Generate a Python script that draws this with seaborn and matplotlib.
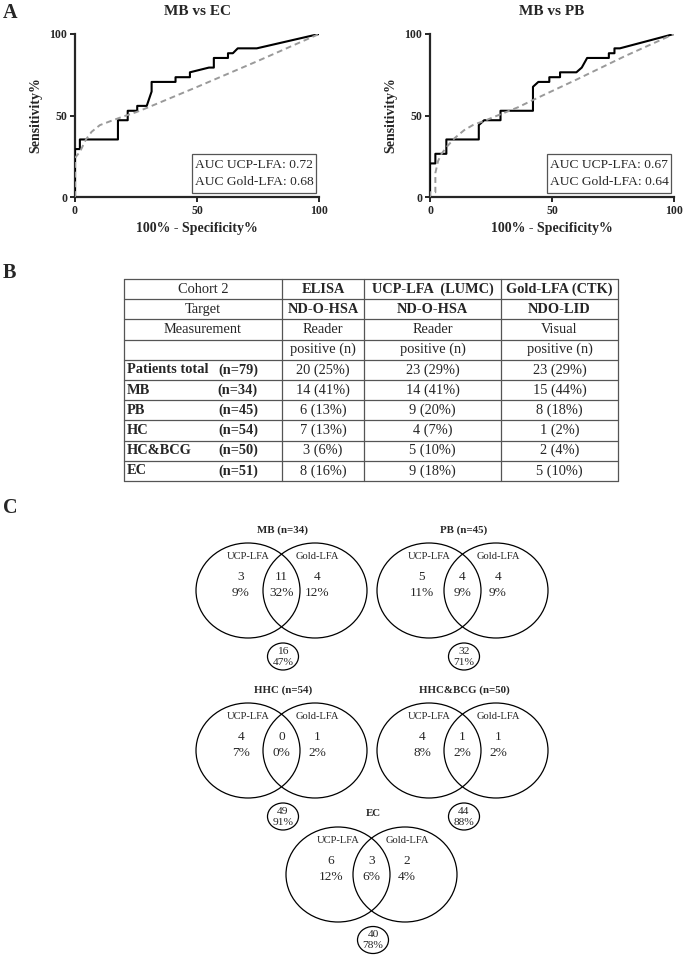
import matplotlib
matplotlib.use("Agg")
import matplotlib.pyplot as plt
import seaborn as sns
from matplotlib.patches import Ellipse, Rectangle

# ---- Panel A: ROC curves ----
ec_ucp_fpr = [0, 0, 2.0, 2.0, 17.6, 17.6, 21.6, 21.6, 25.5, 25.5, 29.4, 31.4, 31.4, 41.2, 41.2,
              47.1, 47.1, 54.9, 56.9, 56.9, 62.7, 62.7, 64.7, 66.7, 74.5, 100]
ec_ucp_tpr = [0, 29.4, 29.4, 35.3, 35.3, 47.1, 47.1, 52.9, 52.9, 55.9, 55.9, 64.7, 70.6, 70.6, 73.5,
              73.5, 76.5, 79.4, 79.4, 85.3, 85.3, 88.2, 88.2, 91.2, 91.2, 100]
ec_gold_fpr = [0, 0, 2.0, 4.5, 6.8, 10.2, 15.7, 20.0, 25.0, 30.0, 50.0, 75.0, 100]
ec_gold_tpr = [0, 24.0, 27.7, 35.3, 40.0, 44.1, 47.2, 49.5, 52.0, 55.0, 67.5, 83.5, 100]

pb_ucp_fpr = [0, 0, 2.2, 2.2, 6.7, 6.7, 20.0, 20.0, 22.2, 28.9, 28.9, 42.2, 42.2, 44.4, 48.9, 48.9,
              53.3, 53.3, 60.0, 62.2, 64.4, 73.3, 73.3, 75.6, 75.6, 77.8, 100]
pb_ucp_tpr = [0, 20.6, 20.6, 26.5, 26.5, 35.3, 35.3, 44.1, 47.1, 47.1, 52.9, 52.9, 67.6, 70.6, 70.6, 73.5,
              73.5, 76.5, 76.5, 79.4, 85.3, 85.3, 88.2, 88.2, 91.2, 91.2, 100]
pb_gold_fpr = [0, 0, 2.2, 2.2, 3.3, 4.5, 6.7, 10.0, 14.0, 18.0, 22.0, 26.0, 31.0, 36.0, 42.2, 60.0, 80.0, 100]
pb_gold_tpr = [0, 2.9, 2.9, 14.7, 22.0, 26.0, 30.5, 36.0, 41.0, 44.5, 46.5, 49.0, 52.0, 55.0, 59.5, 72.0, 86.5, 100]

roc_titles = ["MB vs EC", "MB vs PB"]
auc_ucp = [0.72, 0.67]
auc_gold = [0.68, 0.64]

# ---- Panel B: table ----
col_headers = ["Cohort 2", "ELISA", "UCP-LFA  (LUMC)", "Gold-LFA (CTK)"]
targets = ["Target", "ND-O-HSA", "ND-O-HSA", "NDO-LID"]
measurements = ["Measurement", "Reader", "Reader", "Visual"]
groups = ["Patients total", "MB", "PB", "HC", "HC&BCG", "EC"]
group_n = [79, 34, 45, 54, 50, 51]
elisa_pos = [20, 14, 6, 7, 3, 8]
elisa_pct = [25, 41, 13, 13, 6, 16]
ucp_pos = [23, 14, 9, 4, 5, 9]
ucp_pct = [29, 41, 20, 7, 10, 18]
gold_pos = [23, 15, 8, 1, 2, 5]
gold_pct = [29, 44, 18, 2, 4, 10]

# ---- Panel C: Venn diagrams ----
venn_titles = ["MB (n=34)", "PB (n=45)", "HHC (n=54)", "HHC&BCG (n=50)", "EC"]
ucp_only = [3, 5, 4, 4, 6]
ucp_only_pct = [9, 11, 7, 8, 12]
both = [11, 4, 0, 1, 3]
both_pct = [32, 9, 0, 2, 6]
gold_only = [4, 4, 1, 1, 2]
gold_only_pct = [12, 9, 2, 2, 4]
neither = [16, 32, 49, 44, 40]
neither_pct = [47, 71, 91, 88, 78]

sns.set_style("ticks")
plt.rcParams["font.family"] = ["Liberation Serif", "DejaVu Serif"]

W, H = 685, 959
fig = plt.figure(figsize=(W / 100, H / 100), dpi=100)


def px_axes(left, top, width, height):
    return fig.add_axes([left / W, 1 - (top + height) / H, width / W, height / H])


roc_sets = [
    (ec_ucp_fpr, ec_ucp_tpr, ec_gold_fpr, ec_gold_tpr),
    (pb_ucp_fpr, pb_ucp_tpr, pb_gold_fpr, pb_gold_tpr),
]
for i, (uf, ut, gf, gt) in enumerate(roc_sets):
    ax = px_axes([75, 430][i], 34, 244, 163)
    sns.lineplot(x=uf, y=ut, sort=False, estimator=None, color="black", lw=1.5, ax=ax, zorder=3)
    sns.lineplot(x=gf, y=gt, sort=False, estimator=None, color="#9a9a9a", lw=1.4, ax=ax, zorder=4)
    ax.lines[-1].set_dashes([3, 2])
    ax.set_xlim(0, 100)
    ax.set_ylim(0, 100)
    ax.set_xticks([0, 50, 100])
    ax.set_yticks([0, 50, 100])
    for sp in ["top", "right"]:
        ax.spines[sp].set_visible(False)
    for sp in ["left", "bottom"]:
        ax.spines[sp].set_linewidth(1.6)
    ax.tick_params(width=1.4, length=3.5, labelsize=8.5, pad=2)
    for lab in ax.get_xticklabels() + ax.get_yticklabels():
        lab.set_fontweight("bold")
    ax.set_title(roc_titles[i], fontsize=11, fontweight="bold", pad=14)
    ax.set_xlabel("100% - Specificity%", fontsize=10, fontweight="bold", labelpad=4)
    ax.set_ylabel("Sensitivity%", fontsize=10, fontweight="bold", labelpad=5)
    # AUC box
    ax.add_patch(Rectangle((0.478, 0.025), 0.51, 0.24, transform=ax.transAxes, fc="white",
                           ec="#555555", lw=0.9, zorder=5))
    ax.text(0.493, 0.196, f"AUC UCP-LFA: {auc_ucp[i]:.2f}", transform=ax.transAxes,
            ha="left", va="center", fontsize=9.7, zorder=6)
    ax.text(0.493, 0.094, f"AUC Gold-LFA: {auc_gold[i]:.2f}", transform=ax.transAxes,
            ha="left", va="center", fontsize=9.7, zorder=6)

# overlay in pixel coordinates for table and venn panels
ov = fig.add_axes([0, 0, 1, 1])
ov.set_xlim(0, W)
ov.set_ylim(H, 0)
ov.axis("off")

for letter, y in [("A", 3), ("B", 263), ("C", 498)]:
    ov.text(3, y, letter, fontsize=14.5, fontweight="bold", ha="left", va="top")

# table
col_x = [124, 282, 364, 501, 618]
row_top, row_h, n_rows = 279, 20.2, 10
line_c = "#555555"
for k in range(n_rows + 1):
    y = row_top + k * row_h
    ov.plot([col_x[0], col_x[-1]], [y, y], color=line_c, lw=0.9)
for x in col_x:
    ov.plot([x, x], [row_top, row_top + n_rows * row_h], color=line_c, lw=0.9)

fs = 10.4
centers = [(col_x[j] + col_x[j + 1]) / 2 for j in range(4)]


def row_y(r):
    return row_top + (r + 0.5) * row_h


for j in range(4):
    ov.text(centers[j], row_y(0), col_headers[j], ha="center", va="center", fontsize=fs,
            fontweight="normal" if j == 0 else "bold")
    ov.text(centers[j], row_y(1), targets[j], ha="center", va="center", fontsize=fs,
            fontweight="normal" if j == 0 else "bold")
    ov.text(centers[j], row_y(2), measurements[j], ha="center", va="center", fontsize=fs)
    if j > 0:
        ov.text(centers[j], row_y(3), "positive (n)", ha="center", va="center", fontsize=fs)

for r, g in enumerate(groups):
    y = row_y(4 + r)
    ov.text(col_x[0] + 3, y, g, ha="left", va="center", fontsize=fs, fontweight="bold")
    ov.text(258, y, f"(n={group_n[r]})", ha="right", va="center", fontsize=fs, fontweight="bold")
    for j, (p, q) in enumerate([(elisa_pos, elisa_pct), (ucp_pos, ucp_pct), (gold_pos, gold_pct)]):
        ov.text(centers[j + 1], y, f"{p[r]} ({q[r]}%)", ha="center", va="center", fontsize=fs)

# venn diagrams
venn_centers = [(281.5, 590.5), (462.5, 590.5), (281.5, 750.5), (462.5, 750.5), (371.5, 874.5)]
rx, ry, half_sep = 52, 47.5, 33.5
for k, (cx, cy) in enumerate(venn_centers):
    for dx in (-half_sep, half_sep):
        ov.add_patch(Ellipse((cx + dx, cy), 2 * rx, 2 * ry, fill=False, ec="black", lw=0.9))
    ov.text(cx + 1.5, cy - 60.5, venn_titles[k], ha="center", va="center", fontsize=7.8,
            fontweight="bold")
    ov.text(cx - half_sep, cy - 34, "UCP-LFA", ha="center", va="center", fontsize=7.6)
    ov.text(cx + half_sep + 2, cy - 34, "Gold-LFA", ha="center", va="center", fontsize=7.6)
    for x, n, p in [(cx - half_sep - 7, ucp_only[k], ucp_only_pct[k]),
                    (cx, both[k], both_pct[k]),
                    (cx + half_sep + 2, gold_only[k], gold_only_pct[k])]:
        ov.text(x, cy - 13, str(n), ha="center", va="center", fontsize=9.6)
        ov.text(x, cy + 3, f"{p}%", ha="center", va="center", fontsize=9.6)
    sy = cy + (65.5 if k == 4 else 66)
    ov.add_patch(Ellipse((cx + 1.5, sy), 31, 27, fill=False, ec="black", lw=0.9))
    ov.text(cx + 1.5, sy - 5.5, str(neither[k]), ha="center", va="center", fontsize=8.2)
    ov.text(cx + 1.5, sy + 6, f"{neither_pct[k]}%", ha="center", va="center", fontsize=8.2)

fig.savefig("out.png", dpi=100)
